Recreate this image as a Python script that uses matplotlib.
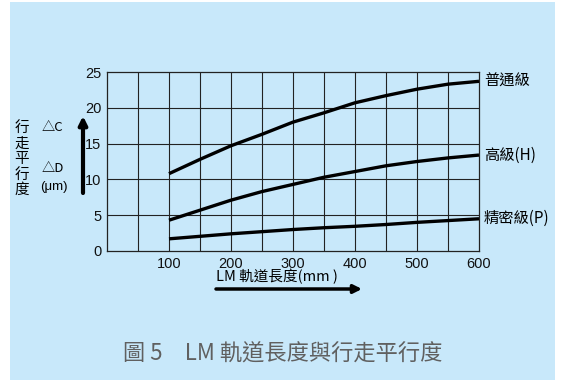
import matplotlib.pyplot as plt
from matplotlib.patches import Rectangle

plt.rcParams['font.family'] = ['Liberation Sans', 'Noto Sans CJK TC', 'DejaVu Sans']

length = [100, 150, 200, 250, 300, 350, 400, 450, 500, 550, 600]
normal = [10.8, 12.8, 14.7, 16.3, 18.0, 19.3, 20.7, 21.7, 22.6, 23.3, 23.7]
high = [4.3, 5.7, 7.1, 8.3, 9.3, 10.3, 11.1, 11.9, 12.5, 13.0, 13.4]
precision = [1.7, 2.05, 2.4, 2.7, 3.0, 3.25, 3.45, 3.7, 4.0, 4.25, 4.5]
grade_labels = ['普通級', '高級(H)', '精密級(P)']

x_ticks = [100, 200, 300, 400, 500, 600]
y_ticks = [0, 5, 10, 15, 20, 25]

bg = '#c8e8fa'
cjk = ['Noto Sans CJK TC', 'DejaVu Sans']

fig = plt.figure(figsize=(5.62, 3.8), dpi=100)
fig.patch.set_facecolor('white')
fig.patches.append(Rectangle((10 / 562, 0), 545 / 562, 378 / 380,
                             transform=fig.transFigure, facecolor=bg,
                             edgecolor='none', zorder=-10))

ax = fig.add_axes([107 / 562, 1 - 251 / 380, 372 / 562, 179 / 380])
ax.set_facecolor(bg)
ax.set_xlim(0, 600)
ax.set_ylim(0, 25)

# grid every 50 mm and every 5 um
for gx in range(50, 600, 50):
    ax.axvline(gx, color='#222222', lw=0.8, zorder=1)
for gy in range(5, 25, 5):
    ax.axhline(gy, color='#222222', lw=0.8, zorder=1)
for s in ax.spines.values():
    s.set_color('#222222')
    s.set_linewidth(0.9)

for ys in (normal, high, precision):
    ax.plot(length, ys, color='black', lw=2.4, solid_capstyle='butt', zorder=3)

ax.set_xticks(x_ticks)
ax.set_yticks(y_ticks)
ax.tick_params(length=0, labelsize=10.5, pad=4, colors='#111111')

# labels at the right end of each curve
for ys, lab in zip((normal, high, precision), grade_labels):
    ax.text(length[-1] + 8, ys[-1], lab, family=cjk, fontsize=11,
            va='center', ha='left', clip_on=False)

# y axis annotations
for i, ch in enumerate('行走平行度'):
    fig.text(22 / 562, 1 - (128 + i * 15.5) / 380, ch, family=cjk, fontsize=10.5,
             ha='center', va='center')
fig.text(42 / 562, 1 - 128 / 380, '△C', family=cjk, fontsize=9.5, ha='left', va='center')
fig.text(42 / 562, 1 - 169 / 380, '△D', family=cjk, fontsize=9.5, ha='left', va='center')
fig.text(40 / 562, 1 - 187 / 380, '(μm)', fontsize=9.5, ha='left', va='center')

ax_arrow = fig.add_axes([0, 0, 1, 1], facecolor='none')
ax_arrow.set_axis_off()
ax_arrow.set_xlim(0, 562)
ax_arrow.set_ylim(380, 0)
ax_arrow.annotate('', xy=(83, 116), xytext=(83, 193),
                  arrowprops=dict(arrowstyle='-|>', lw=3, color='black',
                                  mutation_scale=12, shrinkA=0, shrinkB=0))
ax_arrow.annotate('', xy=(362, 289), xytext=(216, 289),
                  arrowprops=dict(arrowstyle='-|>', lw=2.5, color='black',
                                  mutation_scale=12, shrinkA=0, shrinkB=0))

fig.text(216 / 562, 1 - 277 / 380, 'LM 軌道長度(mm )', family=cjk, fontsize=10.5,
         ha='left', va='center')

fig.text(283 / 562, 1 - 354 / 380, '圖 5　LM 軌道長度與行走平行度', family=cjk,
         fontsize=16, color='#606060', ha='center', va='center')

fig.savefig('out.png', dpi=100, facecolor=fig.get_facecolor())
